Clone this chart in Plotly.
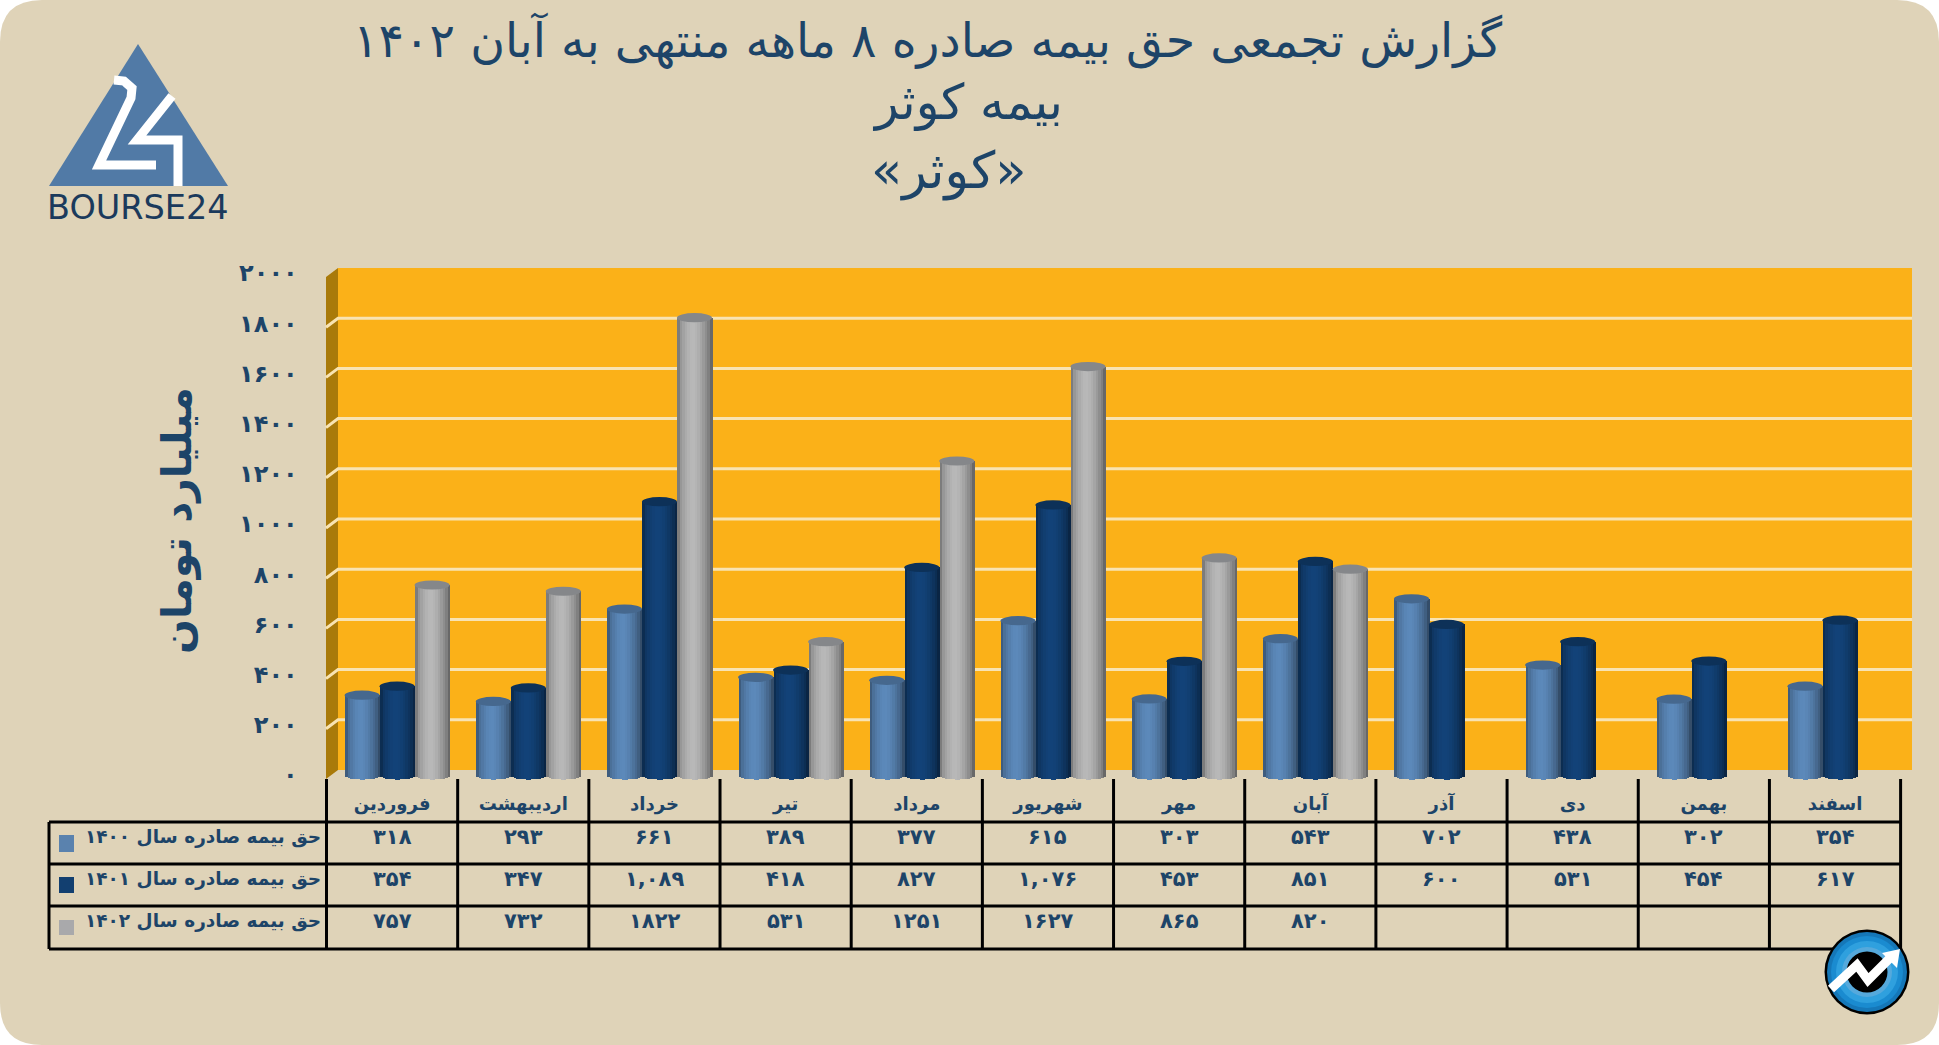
import math
import plotly.graph_objects as go

W, H = 1939, 1045

# ---------- data ----------
months = ["فروردین", "اردیبهشت", "خرداد", "تیر", "مرداد", "شهریور", "مهر", "آبان", "آذر", "دی", "بهمن", "اسفند"]
series_names = ["حق بیمه صادره سال ۱۴۰۰", "حق بیمه صادره سال ۱۴۰۱", "حق بیمه صادره سال ۱۴۰۲"]
values_1400 = [318, 293, 661, 389, 377, 615, 303, 543, 702, 438, 302, 354]
values_1401 = [354, 347, 1089, 418, 827, 1076, 453, 851, 600, 531, 454, 617]
values_1402 = [757, 732, 1822, 531, 1251, 1627, 865, 820]
labels_1400 = ["۳۱۸", "۲۹۳", "۶۶۱", "۳۸۹", "۳۷۷", "۶۱۵", "۳۰۳", "۵۴۳", "۷۰۲", "۴۳۸", "۳۰۲", "۳۵۴"]
labels_1401 = ["۳۵۴", "۳۴۷", "۱,۰۸۹", "۴۱۸", "۸۲۷", "۱,۰۷۶", "۴۵۳", "۸۵۱", "۶۰۰", "۵۳۱", "۴۵۴", "۶۱۷"]
labels_1402 = ["۷۵۷", "۷۳۲", "۱۸۲۲", "۵۳۱", "۱۲۵۱", "۱۶۲۷", "۸۶۵", "۸۲۰"]
y_ticks = [0, 200, 400, 600, 800, 1000, 1200, 1400, 1600, 1800, 2000]
y_tick_labels = ["۰", "۲۰۰", "۴۰۰", "۶۰۰", "۸۰۰", "۱۰۰۰", "۱۲۰۰", "۱۴۰۰", "۱۶۰۰", "۱۸۰۰", "۲۰۰۰"]
title_lines = ["گزارش تجمعی حق بیمه صادره ۸ ماهه منتهی به آبان ۱۴۰۲", "بیمه کوثر", "«کوثر»"]
y_title = "میلیارد تومان"

# ---------- styles ----------
FONT = "DejaVu Sans"
NAVY = "#1D4468"
BEIGE = "#DFD3B8"
series_rgb = [(84, 125, 170), (17, 61, 110), (168, 168, 168)]
top_colors = ["#46688E", "#0D3158", "#85878A"]
swatch_colors = ["#5A82AE", "#123F70", "#A9A9AB"]

def px(x): return x / W
def py(y): return 1 - y / H

# front plane of the chart: value 0 at y=775, 2000 at y=273; wall is 5px higher
Y0, Y2K = 775, 273
SCALE = (Y0 - Y2K) / 2000
AX_L, AX_R = 326.5, 1900.6
COL = (AX_R - AX_L) / 12
AX_BOTTOM_VAL = -40
ax_bottom_px = Y0 - AX_BOTTOM_VAL * SCALE

bar_w = 35 / COL
group_shift = 5 / COL
ell_h = 4.6 / SCALE
N = 14

def shade(rgb, t):
    f = 0.70 + 0.40 * max(0, 1 - abs(t + 0.12) ** 1.7)
    if abs(t) > 0.85:
        f -= 0.08
    return "rgb(%d,%d,%d)" % tuple(min(255, int(c * f)) for c in rgb)

fig = go.Figure()
all_values = [values_1400, values_1401, values_1402]

# cylinders: each is a set of narrow bars shaded across its width
for s, vals in enumerate(all_values):
    xs = [i + 0.5 + group_shift + (s - 1) * bar_w for i in range(len(vals))]
    for k in range(N):
        t = (k + 0.5) / N * 2 - 1
        off = t * bar_w / 2
        dip = ell_h * math.sqrt(1 - t * t)
        fig.add_trace(go.Bar(
            x=[x + off for x in xs],
            y=[v + dip for v in vals],
            base=[-dip] * len(vals),
            width=bar_w / N * 1.05,
            marker=dict(color=shade(series_rgb[s], t), line=dict(width=0)),
            name=series_names[s],
            showlegend=False,
            hoverinfo="skip",
        ))

shapes = []
def rect_path(pts):
    return "M " + " L ".join(f"{px(x)},{py(y)}" for x, y in pts) + " Z"
def line_path(pts):
    return "M " + " L ".join(f"{px(x)},{py(y)}" for x, y in pts)

# page background with rounded corners
r = 42
shapes.append(dict(type="path", xref="paper", yref="paper", layer="below", fillcolor=BEIGE, line=dict(width=0),
    path=(f"M {px(r)},{py(0)} L {px(W-r)},{py(0)} Q {px(W)},{py(0)} {px(W)},{py(r)} "
          f"L {px(W)},{py(H-r)} Q {px(W)},{py(H)} {px(W-r)},{py(H)} L {px(r)},{py(H)} "
          f"Q {px(0)},{py(H)} {px(0)},{py(H-r)} L {px(0)},{py(r)} Q {px(0)},{py(0)} {px(r)},{py(0)} Z")))

# 3D wall
WL, WR, WT, WB = 338, 1912, 268, 770
shapes.append(dict(type="path", xref="paper", yref="paper", layer="below", fillcolor="#FBB118", line=dict(width=0),
                   path=rect_path([(WL, WT), (WR, WT), (WR, WB), (WL, WB)])))
shapes.append(dict(type="path", xref="paper", yref="paper", layer="below", fillcolor="#A97A0A", line=dict(width=0),
                   path=rect_path([(326, 277), (WL, WT), (WL, WB), (326, 779)])))
for v in y_ticks[1:-1]:
    yy = WB - v * (WB - WT) / 2000
    shapes.append(dict(type="path", xref="paper", yref="paper", layer="below", line=dict(color="#F8E3B2", width=3),
                       path=line_path([(326, yy + 9), (WL, yy), (WR, yy)])))

# cylinder tops
for s, vals in enumerate(all_values):
    for i, v in enumerate(vals):
        c = i + 0.5 + group_shift + (s - 1) * bar_w
        shapes.append(dict(type="circle", xref="x", yref="y", layer="above", fillcolor=top_colors[s],
                           line=dict(width=0), x0=c - bar_w / 2, x1=c + bar_w / 2, y0=v - ell_h, y1=v + ell_h))

# table grid
TBL_L, TBL_T, ROWS = 49, 779, [822, 864, 906, 949]
for y in ROWS:
    shapes.append(dict(type="line", xref="paper", yref="paper", layer="above", line=dict(color="black", width=3),
                       x0=px(TBL_L), x1=px(AX_R), y0=py(y), y1=py(y)))
shapes.append(dict(type="line", xref="paper", yref="paper", layer="above", line=dict(color="black", width=3),
                   x0=px(TBL_L), x1=px(TBL_L), y0=py(ROWS[0]), y1=py(ROWS[-1])))
for i in range(13):
    x = AX_L + i * COL
    shapes.append(dict(type="line", xref="paper", yref="paper", layer="above", line=dict(color="black", width=3),
                       x0=px(x), x1=px(x), y0=py(TBL_T), y1=py(ROWS[-1])))

# legend keys inside the table
for (y0, y1), c in zip([(835, 852), (877, 893), (920, 935)], swatch_colors):
    shapes.append(dict(type="rect", xref="paper", yref="paper", layer="above", fillcolor=c, line=dict(width=0),
                       x0=px(59), x1=px(74), y0=py(y0), y1=py(y1)))

# logo
shapes.append(dict(type="path", xref="paper", yref="paper", layer="below", fillcolor="#517AA6", line=dict(width=0),
                   path=rect_path([(138, 44), (228, 186), (49, 186)])))
shapes.append(dict(type="path", xref="paper", yref="paper", layer="below", line=dict(color="white", width=9),
                   path=line_path([(114, 80), (124, 81), (132, 88), (131, 98), (99, 165), (156, 165)])))
shapes.append(dict(type="path", xref="paper", yref="paper", layer="below", line=dict(color="white", width=9),
                   path=line_path([(172, 96), (137, 140), (178, 140), (178, 186)])))

# round badge at the lower right
BX, BY = 1867, 972
for rad, col in [(42.5, "#000000"), (40, "#1577B8"), (36, "#1A8BD0"), (31, "#2FA0DE"), (25, "#55A9DC"), (20.5, "#000000")]:
    shapes.append(dict(type="circle", xref="paper", yref="paper", layer="above", fillcolor=col, line=dict(width=0),
                       x0=px(BX - rad), x1=px(BX + rad), y0=py(BY + rad), y1=py(BY - rad)))
shapes.append(dict(type="path", xref="paper", yref="paper", layer="above", line=dict(color="white", width=9),
                   path=line_path([(1831, 989), (1857, 965), (1868, 980), (1890, 958)])))
shapes.append(dict(type="path", xref="paper", yref="paper", layer="above", fillcolor="white", line=dict(width=0),
                   path=rect_path([(1900, 949), (1882, 953), (1897, 968)])))

# ---------- text ----------
ann = []
def text(x, y, s, size, weight=400, color=NAVY, xanchor="center", xref="paper", angle=0, family=FONT):
    ann.append(dict(x=x, y=py(y), xref=xref, yref="paper", text=s, showarrow=False, xanchor=xanchor, yanchor="middle",
                    textangle=angle, font=dict(family=family, size=size, color=color, weight=weight)))

text(px(927), 41, title_lines[0], 47.5)
text(px(967), 102, title_lines[1], 49)
text(px(948), 171, title_lines[2], 51)
text(px(177), 521, y_title, 41, 700, angle=-90)
text(px(138), 208, "BOURSE24", 33.5, color="#1B3A5C")

for row_y, name, labels in zip([837, 879, 921], series_names, [labels_1400, labels_1401, labels_1402]):
    text(px(323), row_y, name, 18.5, 700, xanchor="right")
    for i, lab in enumerate(labels):
        text(i + 0.5, row_y, lab, 21, 700, xref="x")

fig.update_layout(
    template="none",
    width=W, height=H, margin=dict(l=0, r=0, t=0, b=0, pad=0), autosize=False,
    paper_bgcolor="white", plot_bgcolor="rgba(0,0,0,0)",
    barmode="overlay", bargap=0, showlegend=False,
    shapes=shapes, annotations=ann,
    xaxis=dict(domain=[px(AX_L), px(AX_R)], range=[0, 12], showgrid=False, zeroline=False, showline=False,
               automargin=False, tickmode="array", tickvals=[i + 0.5 for i in range(12)], ticktext=months,
               ticks="outside", ticklen=2, tickcolor="rgba(0,0,0,0)",
               tickfont=dict(family=FONT, size=18, color=NAVY, weight=700)),
    yaxis=dict(domain=[py(ax_bottom_px), py(Y2K)], range=[AX_BOTTOM_VAL, 2000], showgrid=False, zeroline=False,
               showline=False, automargin=False, tickmode="array", tickvals=y_ticks, ticktext=y_tick_labels,
               ticks="outside", ticklen=23, tickcolor="rgba(0,0,0,0)",
               tickfont=dict(family=FONT, size=24, color=NAVY, weight=700)),
)

fig.write_html("out.html", config={"displayModeBar": False},
               post_script="document.body.style.margin='0';document.body.style.overflow='hidden';")
